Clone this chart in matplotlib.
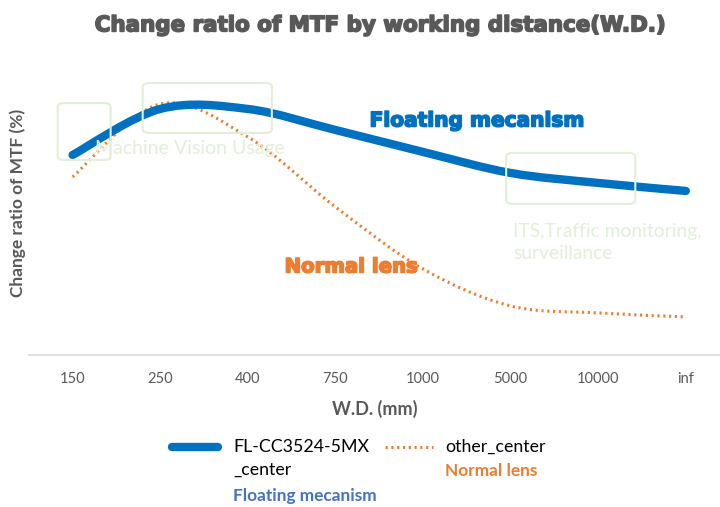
import matplotlib
matplotlib.use('Agg')
import matplotlib.pyplot as plt
from matplotlib.path import Path
from matplotlib.patches import PathPatch, FancyBboxPatch
from matplotlib.lines import Line2D
import matplotlib.patheffects as pe
import numpy as np

# ---------------- data ----------------
wd_labels = ['150', '250', '400', '750', '1000', '5000', '10000', 'inf']
floating = [80.0, 98.4, 98.4, 90.0, 81.2, 72.8, 68.8, 65.6]   # FL-CC3524-5MX_center
normal = [71.2, 100.4, 87.2, 59.2, 34.4, 19.6, 16.8, 15.2]    # other_center

BLUE = '#0070c0'
ORANGE = '#ed7d31'
GRAY = '#595959'
PALE = '#e2efd9'
DOTS = (0, (0.7, 1.2))


def smooth_path(xs, ys):
    # excel style smoothed line: cubic bezier segments through the points
    pts = np.column_stack([xs, ys]).astype(float)
    n = len(pts)
    verts = [pts[0]]
    codes = [Path.MOVETO]
    for i in range(n - 1):
        p0 = pts[i - 1] if i > 0 else pts[i]
        p1 = pts[i]
        p2 = pts[i + 1]
        p3 = pts[i + 2] if i + 2 < n else pts[i + 1]
        c1 = p1 + (p2 - p0) / 6.0
        c2 = p2 - (p3 - p1) / 6.0
        verts += [c1, c2, p2]
        codes += [Path.CURVE4] * 3
    return Path(verts, codes)


def heavy(c, w=1.2):
    return [pe.withStroke(linewidth=w, foreground=c)]


fig = plt.figure(figsize=(7.2, 5.07), dpi=100)
ax = fig.add_axes([0.040, 0.300, 0.960, 0.562])

x = np.arange(len(wd_labels))
ax.add_patch(PathPatch(smooth_path(x, floating), fill=False, ec=BLUE, lw=6,
                       capstyle='round', zorder=3))
ax.add_patch(PathPatch(smooth_path(x, normal), fill=False, ec=ORANGE, lw=2.2,
                       ls=DOTS, zorder=2))

ax.set_xlim(-0.5, 7.39)
ax.set_ylim(0, 114)
ax.set_xticks(x)
ax.set_xticklabels(wd_labels, color=GRAY, fontsize=10.5, family='Lato')
ax.set_yticks([])
ax.tick_params(axis='x', length=0, pad=12)
for s in ['top', 'right', 'left']:
    ax.spines[s].set_visible(False)
ax.spines['bottom'].set_color('#d9d9d9')
ax.spines['bottom'].set_linewidth(1.2)

ax.set_xlabel('W.D. (mm)', color=GRAY, fontsize=13, family='Lato',
              fontweight='bold', labelpad=10)
fig.text(0.025, 0.60, 'Change ratio of MTF (%)', rotation=90, color=GRAY,
         fontsize=12.5, family='Lato', fontweight='bold', ha='center', va='center')

fig.text(0.527, 0.950, 'Change ratio of MTF by working distance(W.D.)',
         color=GRAY, fontsize=15.4, fontweight='heavy', ha='center', va='center',
         path_effects=heavy(GRAY))

# usage boxes
for (x0, x1, y0, y1) in [(-0.17, 0.434, 78, 100.8), (0.8, 2.274, 88.8, 108.8),
                         (4.949, 6.423, 60.4, 80.8)]:
    ax.add_patch(FancyBboxPatch((x0, y0), x1 - x0, y1 - y0,
                                boxstyle='round,pad=0,rounding_size=0.08',
                                mutation_aspect=20, fill=False, ec=PALE, lw=1.5,
                                zorder=4))
ax.text(1.337, 82.4, 'Machine Vision Usage', color=PALE, fontsize=14,
        family='Lato', ha='center', va='center', zorder=5)
ax.text(5.03, 45, 'ITS,Traffic monitoring,\nsurveillance', color=PALE,
        fontsize=13.9, family='Lato', ha='left', va='center', linespacing=1.3,
        zorder=5)

ax.text(3.39, 93.6, 'Floating mecanism', color=BLUE, fontsize=14.5,
        fontweight='heavy', ha='left', va='center', zorder=5,
        path_effects=heavy(BLUE))
ax.text(2.42, 35.2, 'Normal lens', color=ORANGE, fontsize=14.2,
        fontweight='heavy', ha='left', va='center', zorder=5,
        path_effects=heavy(ORANGE))

# legend, laid out by hand like the reference
def fx(px):
    return px / 720.0


def fy(py):
    return 1 - py / 507.0


fig.add_artist(Line2D([fx(172), fx(218)], [fy(447), fy(447)], color=BLUE, lw=6,
                      solid_capstyle='round'))
fig.add_artist(Line2D([fx(385), fx(433)], [fy(447), fy(447)], color=ORANGE,
                      lw=2.2, ls=DOTS))
fig.text(fx(233), fy(447), 'FL-CC3524-5MX', fontsize=12.8, family='Lato',
         ha='left', va='center')
fig.text(fx(233), fy(470), '_center', fontsize=12.8, family='Lato',
         ha='left', va='center')
fig.text(fx(445), fy(447), 'other_center', fontsize=12.8, family='Lato',
         ha='left', va='center')
fig.text(fx(233), fy(496), 'Floating mecanism', color='#4472c4', fontsize=12.4,
         family='Lato', fontweight='bold', ha='left', va='center')
fig.text(fx(445), fy(471), 'Normal lens', color=ORANGE, fontsize=12.4,
         family='Lato', fontweight='bold', ha='left', va='center')

fig.savefig('out.png', dpi=100)
